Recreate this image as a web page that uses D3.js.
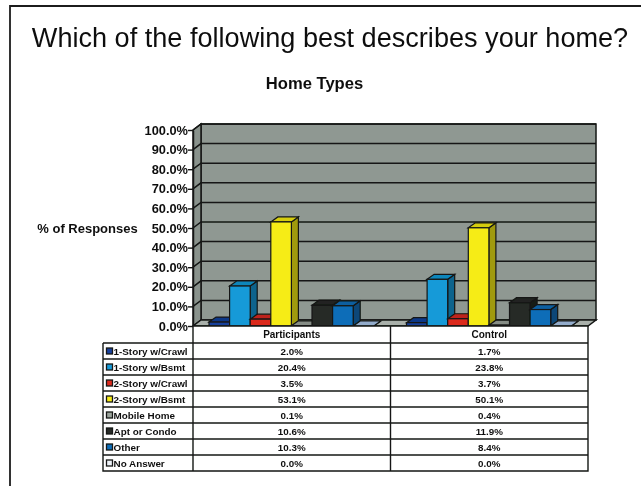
<!DOCTYPE html>
<html>
<head>
<meta charset="utf-8">
<script src="https://cdnjs.cloudflare.com/ajax/libs/d3/7.8.5/d3.min.js"></script>
<style>
    html, body { margin: 0; padding: 0; background: #fff; }
    svg { display: block; font-family: "Liberation Sans", Arial, sans-serif; }
</style>
</head>
<body>
<div id="chart"></div>
<script>
// Values
const homeTypes = ["1-Story w/Crawl", "1-Story w/Bsmt", "2-Story w/Crawl", "2-Story w/Bsmt",
    "Mobile Home", "Apt or Condo", "Other", "No Answer"];
const groups = ["Participants", "Control"];
const participants = [2.0, 20.4, 3.5, 53.1, 0.1, 10.6, 10.3, 0.0];
const control = [1.7, 23.8, 3.7, 50.1, 0.4, 11.9, 8.4, 0.0];
const yTicks = [0, 10, 20, 30, 40, 50, 60, 70, 80, 90, 100];
const seriesColors = ["#123f9c", "#149ad8", "#dc2a1e", "#f6ec12", "#9aa39b", "#252925", "#0d6db8", "#a9c6ea"];

const titleText = "Which of the following best describes your home?";
const chartTitle = "Home Types";
const yAxisTitle = "% of Responses";

const width = 641, height = 486;
const plot = { left: 193, right: 588, top: 130, bottom: 326 };
const wallDepth = { x: 8, y: -6 };
const barDepth = { x: 7, y: -5 };
const tableLeft = 103, headerBottom = 343, tableBottom = 471;

const svg = d3.select("#chart").append("svg")
    .attr("width", width)
    .attr("height", height);

// scanned look, everything a little soft
svg.append("defs").append("filter")
    .attr("id", "soft")
    .attr("x", 0).attr("y", 0).attr("width", 1).attr("height", 1)
    .attr("filterUnits", "objectBoundingBox")
    .append("feGaussianBlur")
    .attr("stdDeviation", 0.5);

const root = svg.append("g").attr("filter", "url(#soft)");
root.append("rect").attr("width", width).attr("height", height).attr("fill", "#fff");

// Page frame, only top and left show
root.append("path")
    .attr("d", `M10,${height}V6H${width}`)
    .attr("fill", "none")
    .attr("stroke", "#1c1c1c")
    .attr("stroke-width", 1.8);

root.append("text")
    .attr("x", 330).attr("y", 47)
    .attr("text-anchor", "middle")
    .attr("font-size", 27.1)
    .attr("fill", "#111")
    .text(titleText);

root.append("text")
    .attr("x", 314.5).attr("y", 89)
    .attr("text-anchor", "middle")
    .attr("font-size", 16.6)
    .attr("font-weight", "bold")
    .attr("fill", "#111")
    .text(chartTitle);

root.append("text")
    .attr("x", 87.5).attr("y", 233)
    .attr("text-anchor", "middle")
    .attr("font-size", 13)
    .attr("font-weight", "bold")
    .attr("fill", "#111")
    .text(yAxisTitle);

// Scales
const yScale = d3.scaleLinear().domain([0, 100]).range([plot.bottom, plot.top]);
const groupScale = d3.scaleBand().domain(groups).range([plot.left, plot.right]);
const seriesScale = d3.scaleBand()
    .domain(homeTypes)
    .range([16, 180.8]);

const dx = wallDepth.x, dy = wallDepth.y;
const lineColor = "#141714";

// Walls and floor
root.append("rect")
    .attr("x", plot.left + dx).attr("y", plot.top + dy)
    .attr("width", plot.right - plot.left).attr("height", plot.bottom - plot.top)
    .attr("fill", "#8f9892")
    .attr("stroke", lineColor).attr("stroke-width", 1.5);

root.append("path")
    .attr("d", `M${plot.left},${plot.top}L${plot.left + dx},${plot.top + dy}V${plot.bottom + dy}L${plot.left},${plot.bottom}Z`)
    .attr("fill", "#89928c")
    .attr("stroke", lineColor).attr("stroke-width", 1.5);

root.append("path")
    .attr("d", `M${plot.left},${plot.bottom}L${plot.left + dx},${plot.bottom + dy}H${plot.right + dx}L${plot.right},${plot.bottom}Z`)
    .attr("fill", "#a9b0aa")
    .attr("stroke", lineColor).attr("stroke-width", 1.5);

// Gridlines along the left wall and the back wall
root.append("g").selectAll("path")
    .data(yTicks.slice(1))
    .join("path")
    .attr("d", d => `M${plot.left},${yScale(d)}L${plot.left + dx},${yScale(d) + dy}H${plot.right + dx}`)
    .attr("fill", "none")
    .attr("stroke", lineColor)
    .attr("stroke-width", 1.5);

// 3D bars, one group per column, drawn left to right
const groupValues = [participants, control];
const barGroups = root.append("g").selectAll("g")
    .data(groups)
    .join("g")
    .attr("transform", d => `translate(${groupScale(d)},0)`);

barGroups.each(function (groupName, g) {
    const barData = homeTypes.map((type, i) => ({ type, value: groupValues[g][i], color: seriesColors[i] }));
    const bars = d3.select(this).selectAll("g")
        .data(barData)
        .join("g");
    const bw = seriesScale.bandwidth();
    const ex = barDepth.x, ey = barDepth.y;

    // side
    bars.append("path")
        .attr("d", d => {
            const x = seriesScale(d.type) + bw, top = yScale(d.value);
            return `M${x},${top}l${ex},${ey}V${plot.bottom + ey}L${x},${plot.bottom}Z`;
        })
        .attr("fill", d => d3.color(d.color).darker(1.2))
        .attr("stroke", lineColor).attr("stroke-width", 1.2);
    // top
    bars.append("path")
        .attr("d", d => {
            const x = seriesScale(d.type), top = yScale(d.value);
            return `M${x},${top}l${ex},${ey}h${bw}l${-ex},${-ey}Z`;
        })
        .attr("fill", d => d3.color(d.color).darker(0.4))
        .attr("stroke", lineColor).attr("stroke-width", 1.2);
    // front
    bars.append("rect")
        .attr("x", d => seriesScale(d.type))
        .attr("y", d => yScale(d.value))
        .attr("width", bw)
        .attr("height", d => plot.bottom - yScale(d.value))
        .attr("fill", d => d.color)
        .attr("stroke", lineColor).attr("stroke-width", 1.2);
});

// Y axis
const yAxis = root.append("g")
    .attr("transform", `translate(${plot.left},0)`)
    .call(d3.axisLeft(yScale).tickValues(yTicks).tickFormat(d => d.toFixed(1) + "%").tickSize(5).tickSizeOuter(0));
yAxis.select(".domain").attr("stroke", lineColor).attr("stroke-width", 1.5);
yAxis.selectAll(".tick line").attr("stroke", lineColor).attr("stroke-width", 1.4);
yAxis.selectAll(".tick text")
    .attr("x", -5)
    .attr("font-family", "'Liberation Sans', Arial, sans-serif")
    .attr("font-size", 12.8)
    .attr("font-weight", "bold")
    .attr("fill", "#111");

// Data table underneath
const rowScale = d3.scaleBand().domain(homeTypes).range([headerBottom, tableBottom]);
const table = root.append("g");

table.append("rect")
    .attr("x", plot.left).attr("y", plot.bottom)
    .attr("width", plot.right - plot.left).attr("height", tableBottom - plot.bottom)
    .attr("fill", "#fff");

table.selectAll("text.head")
    .data(groups)
    .join("text")
    .attr("class", "head")
    .attr("x", d => groupScale(d) + groupScale.bandwidth() / 2)
    .attr("y", 338)
    .attr("text-anchor", "middle")
    .attr("font-size", 10)
    .attr("font-weight", "bold")
    .attr("fill", "#111")
    .text(d => d);

const rows = table.selectAll("g.row")
    .data(homeTypes)
    .join("g")
    .attr("class", "row")
    .attr("transform", d => `translate(0,${rowScale(d)})`);

rows.append("line")
    .attr("x1", tableLeft).attr("x2", plot.right)
    .attr("stroke", lineColor).attr("stroke-width", 1.4);

rows.append("rect")
    .attr("x", tableLeft + 3.5)
    .attr("y", rowScale.bandwidth() / 2 - 3)
    .attr("width", 6).attr("height", 6)
    .attr("fill", (d, i) => i === 7 ? "#eef3f8" : seriesColors[i])
    .attr("stroke", lineColor).attr("stroke-width", 1.3);

rows.append("text")
    .attr("x", tableLeft + 10.5)
    .attr("y", rowScale.bandwidth() / 2 + 3.5)
    .attr("font-size", 9.9)
    .attr("font-weight", "bold")
    .attr("fill", "#111")
    .text(d => d);

groups.forEach((groupName, g) => {
    rows.append("text")
        .attr("x", groupScale(groupName) + groupScale.bandwidth() / 2)
        .attr("y", rowScale.bandwidth() / 2 + 3.5)
        .attr("text-anchor", "middle")
        .attr("font-size", 9.8)
        .attr("font-weight", "bold")
        .attr("fill", "#111")
        .text((d, i) => groupValues[g][i].toFixed(1) + "%");
});

// Table outer lines and column lines
table.append("path")
    .attr("d", `M${tableLeft},${headerBottom}V${tableBottom}H${plot.right}V${plot.bottom}`
        + `M${plot.left},${plot.bottom}V${tableBottom}`
        + `M${groupScale(groups[1])},${plot.bottom}V${tableBottom}`
        + `M${plot.left},${plot.bottom}H${plot.right}`)
    .attr("fill", "none")
    .attr("stroke", lineColor)
    .attr("stroke-width", 1.4);
</script>
</body>
</html>
